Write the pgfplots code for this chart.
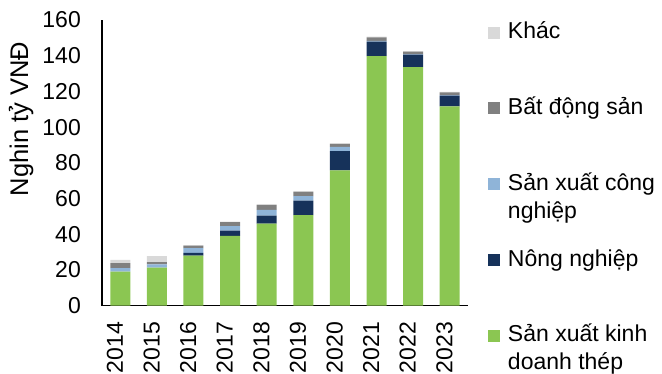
\documentclass[border=0pt]{standalone}
\usepackage{pgfplots}
\pgfplotsset{compat=1.18}
\usepackage{pgfplotstable}
\usepackage{fontspec}
\setmainfont{Liberation Sans}
\definecolor{cgreen}{RGB}{139,198,82}
\definecolor{cnavy}{RGB}{22,50,90}
\definecolor{clblue}{RGB}{143,180,216}
\definecolor{cgray}{RGB}{128,128,128}
\definecolor{clgray}{RGB}{217,217,217}
\pgfplotstableread{
x g n c b k
0 19.1 0 1.9 2.8 1.9
1 21.3 0 1.9 1.2 3.3
2 28.1 1.5 2.6 1.5 0.2
3 39.1 3.0 2.5 2.2 0.3
4 45.9 4.6 3.1 2.8 0.3
5 50.7 8.1 2.6 2.4 0.3
6 75.8 10.7 2.5 1.6 0.3
7 139.8 8.1 0.4 2.0 0.4
8 133.6 7.0 0.3 1.4 0.3
9 111.6 6.0 0.3 1.5 0.3
}\data
\newcommand\lent[1]{\parbox[t]{160bp}{\raggedright\rule{0pt}{24bp}#1}}
\pgfplotsset{
  mybar/.style={fill=#1, draw=none,
    legend image code/.code={\fill[fill=#1] (0bp,0bp) rectangle (12bp,12bp);}},
}
\begin{document}
\begin{tikzpicture}
\begin{axis}[
  name=ax,
  scale only axis,
  width=366bp, height=285.7bp,
  ybar stacked, bar width=20bp,
  xmin=-0.5, xmax=9.5, ymin=0, ymax=160,
  ytick={0,20,...,160},
  xtick={0,...,9},
  xticklabels={2014,2015,2016,2017,2018,2019,2020,2021,2022,2023},
  axis x line*=bottom, axis y line*=left,
  axis line style={line width=1.5bp, black, -},
  major tick length=0pt,
  /pgf/number format/assume math mode=true,
  every tick label/.append style={font=\fontsize{23bp}{28bp}\selectfont, inner sep=0pt},
  yticklabel style={anchor=east, xshift=-21bp},
  xticklabel style={yshift=-16bp, rotate=90, anchor=mid east},
  every axis y label/.style={at={(axis description cs:-0.202,0.6535)}, rotate=90, anchor=base, font=\fontsize{25.5bp}{30bp}\selectfont, inner sep=0pt},
  ylabel={Nghin tỷ VNĐ},
  reverse legend,
  legend style={at={(axis description cs:1.0546,1.0255)}, anchor=north west, draw=none, fill=none, inner sep=0pt, outer sep=0pt, row sep=46.3bp, column sep=6bp, font=\fontsize{23bp}{28bp}\selectfont, cells={anchor=base west, inner sep=0pt}},
]
\addplot[mybar=cgreen] table[x=x,y=g]{\data};
\addlegendentry{\lent{Sản xuất kinh\\doanh thép}}
\addplot[mybar=cnavy] table[x=x,y=n]{\data};
\addlegendentry{\lent{Nông nghiệp}}
\addplot[mybar=clblue] table[x=x,y=c]{\data};
\addlegendentry{\lent{Sản xuất công\\nghiệp}}
\addplot[mybar=cgray] table[x=x,y=b]{\data};
\addlegendentry{\lent{Bất động sản}}
\addplot[mybar=clgray] table[x=x,y=k]{\data};
\addlegendentry{\lent{Khác}}
\end{axis}
\pgfresetboundingbox
\path ([shift={(-102bp,-68.3bp)}]ax.south west) rectangle ([shift={(560bp,305.7bp)}]ax.south west);
\end{tikzpicture}
\end{document}
